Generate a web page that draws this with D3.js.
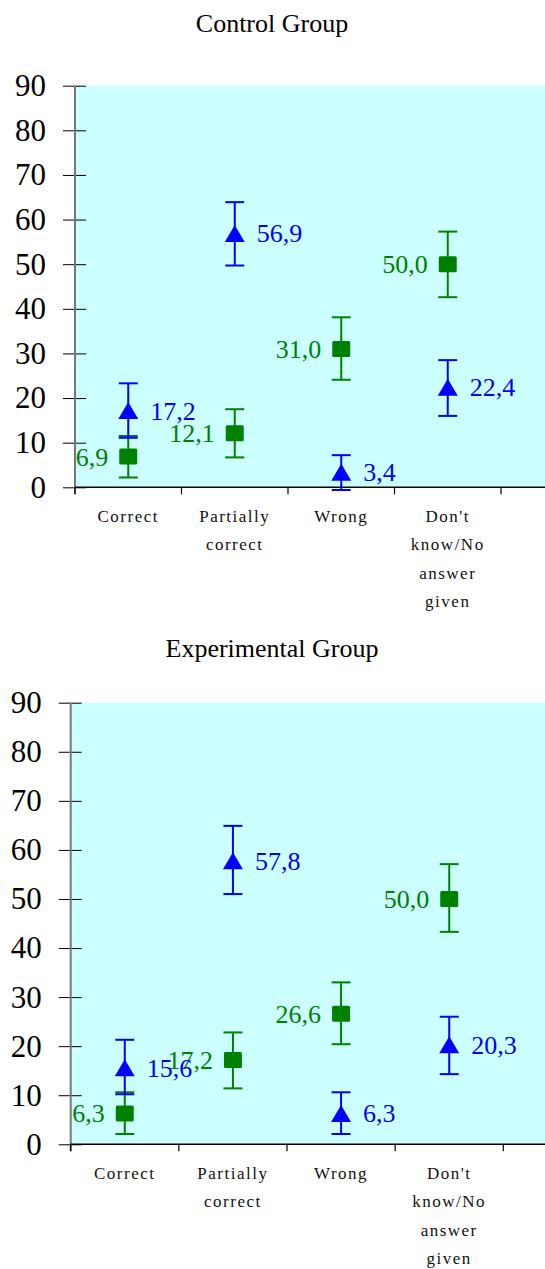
<!DOCTYPE html>
<html>
<head>
<meta charset="utf-8">
<script src="https://cdn.jsdelivr.net/npm/d3@7"></script>
<style>
  body { margin: 0; background: #fff; }
  svg { display: block; font-family: "Liberation Serif", "DejaVu Serif", serif; }
</style>
</head>
<body>
<svg width="545" height="1269"></svg>
<script>
// DATA
const categories = ["Correct", "Partially correct", "Wrong", "Don't know/No answer given"];
const categoryLines = [["Correct"], ["Partially", "correct"], ["Wrong"], ["Don't", "know/No", "answer", "given"]];
const yTicks = [0, 10, 20, 30, 40, 50, 60, 70, 80, 90];

// control group: triangles (blue) and squares (green), with error bar ends
const controlTriangle = [17.2, 56.9, 3.4, 22.4];
const controlTriangleLow = [11.1, 49.7, -0.6, 16.0];
const controlTriangleHigh = [23.3, 63.9, 7.2, 28.5];
const controlSquare = [6.9, 12.1, 31.0, 50.0];
const controlSquareLow = [2.2, 6.7, 24.1, 42.6];
const controlSquareHigh = [11.5, 17.5, 38.1, 57.3];

// experimental group
const expTriangle = [15.6, 57.8, 6.3, 20.3];
const expTriangleLow = [10.2, 51.0, 2.1, 14.3];
const expTriangleHigh = [21.3, 64.9, 10.6, 26.0];
const expSquare = [6.3, 17.2, 26.6, 50.0];
const expSquareLow = [2.1, 11.4, 20.4, 43.3];
const expSquareHigh = [10.6, 22.8, 33.0, 57.1];

const svg = d3.select("svg");
const W = 545;
const blue = "#0000ff", green = "#008000";
const fmt = d3.formatLocale({ decimal: ",", thousands: ".", grouping: [3], currency: ["", ""] }).format(".1f");

function drawPanel(p) {
  const x = d3.scaleBand().domain(categories).range([p.left, p.left + 4 * p.band]);
  const y = d3.scaleLinear().domain([0, 90]).range([p.bottom, p.top]);

  // title
  svg.append("text")
    .attr("x", 272).attr("y", p.titleY)
    .attr("text-anchor", "middle")
    .style("font-size", "26px")
    .text(p.title);

  // plot background
  svg.append("rect")
    .attr("x", p.left).attr("y", y(90))
    .attr("width", W - p.left).attr("height", y(0) - y(90))
    .attr("fill", "#ccffff");

  // y axis
  const yAxis = svg.append("g")
    .attr("transform", `translate(${p.left},0)`)
    .call(d3.axisLeft(y).tickValues(yTicks).tickSize(12).tickPadding(17));
  yAxis.select(".domain").remove();
  yAxis.selectAll(".tick line").attr("x1", 11).attr("stroke", "#000");
  yAxis.selectAll(".tick text")
    .attr("font-family", "Liberation Serif")
    .style("font-size", "31px")
    .attr("fill", "#000");
  svg.append("line")
    .attr("x1", p.left).attr("x2", p.left)
    .attr("y1", y(90)).attr("y2", y(0) + 7)
    .attr("stroke", "#777").attr("stroke-width", 2);

  // x axis
  svg.append("line")
    .attr("x1", p.left).attr("x2", W)
    .attr("y1", y(0)).attr("y2", y(0))
    .attr("stroke", "#000").attr("stroke-width", 1.5);
  const xTickPos = categories.map(c => x(c)).concat([x.range()[1]]);
  svg.append("g").selectAll("line")
    .data(xTickPos)
    .join("line")
    .attr("x1", d => d).attr("x2", d => d)
    .attr("y1", y(0)).attr("y2", y(0) + 7)
    .attr("stroke", "#000").attr("stroke-width", 1.2);

  // category labels
  const lab = svg.append("g").selectAll("text")
    .data(categories)
    .join("text")
    .attr("text-anchor", "middle")
    .style("font-size", "17px")
    .style("letter-spacing", "1.5px")
    .attr("fill", "#111");
  lab.each(function (c, i) {
    const t = d3.select(this);
    categoryLines[i].forEach((s, j) => {
      t.append("tspan")
        .attr("x", x(c) + x.bandwidth() / 2)
        .attr("y", y(0) + 34.5 + j * 28.5)
        .text(s);
    });
  });

  const cx = c => x(c) + x.bandwidth() / 2;

  // error bars + markers
  function series(vals, lo, hi, color, shape, side) {
    const g = svg.append("g");
    const rows = categories.map((c, i) => ({ c, v: vals[i], lo: lo[i], hi: hi[i] }));
    g.selectAll(".bar").data(rows).join("line")
      .attr("x1", d => cx(d.c)).attr("x2", d => cx(d.c))
      .attr("y1", d => y(d.lo)).attr("y2", d => y(d.hi))
      .attr("stroke", color).attr("stroke-width", 2);
    ["lo", "hi"].forEach(k => {
      g.selectAll(".cap-" + k).data(rows).join("line")
        .attr("x1", d => cx(d.c) - 9.5).attr("x2", d => cx(d.c) + 9.5)
        .attr("y1", d => y(d[k])).attr("y2", d => y(d[k]))
        .attr("stroke", color).attr("stroke-width", 2);
    });
    if (shape === "square") {
      g.selectAll(".mk").data(rows).join("rect")
        .attr("x", d => cx(d.c) - 9).attr("y", d => y(d.v) - 8)
        .attr("width", 18).attr("height", 16).attr("rx", 1.5)
        .attr("fill", color);
    } else {
      g.selectAll(".mk").data(rows).join("path")
        .attr("d", d => `M${cx(d.c)},${y(d.v) - 8.5}L${cx(d.c) + 10},${y(d.v) + 8.5}L${cx(d.c) - 10},${y(d.v) + 8.5}Z`)
        .attr("fill", color);
    }
    return { g, rows, color, side };
  }
  function labels(s) {
    svg.append("g").selectAll("text").data(s.rows).join("text")
      .attr("x", d => cx(d.c) + (s.side > 0 ? 22 : -20))
      .attr("y", d => y(d.v) + 9)
      .attr("text-anchor", s.side > 0 ? "start" : "end")
      .style("font-size", "26px")
      .attr("fill", s.color)
      .text(d => fmt(d.v));
  }

  const sq = series(p.square, p.squareLow, p.squareHigh, green, "square", -1);
  const tr = series(p.triangle, p.triangleLow, p.triangleHigh, blue, "triangle", 1);
  labels(sq);
  labels(tr);
}

drawPanel({
  title: "Control Group", titleY: 32,
  left: 75, band: 106.5, top: 85.7, bottom: 487.3,
  triangle: controlTriangle, triangleLow: controlTriangleLow, triangleHigh: controlTriangleHigh,
  square: controlSquare, squareLow: controlSquareLow, squareHigh: controlSquareHigh
});

drawPanel({
  title: "Experimental Group", titleY: 657,
  left: 70.7, band: 108.15, top: 702.7, bottom: 1144.3,
  triangle: expTriangle, triangleLow: expTriangleLow, triangleHigh: expTriangleHigh,
  square: expSquare, squareLow: expSquareLow, squareHigh: expSquareHigh
});
</script>
</body>
</html>
